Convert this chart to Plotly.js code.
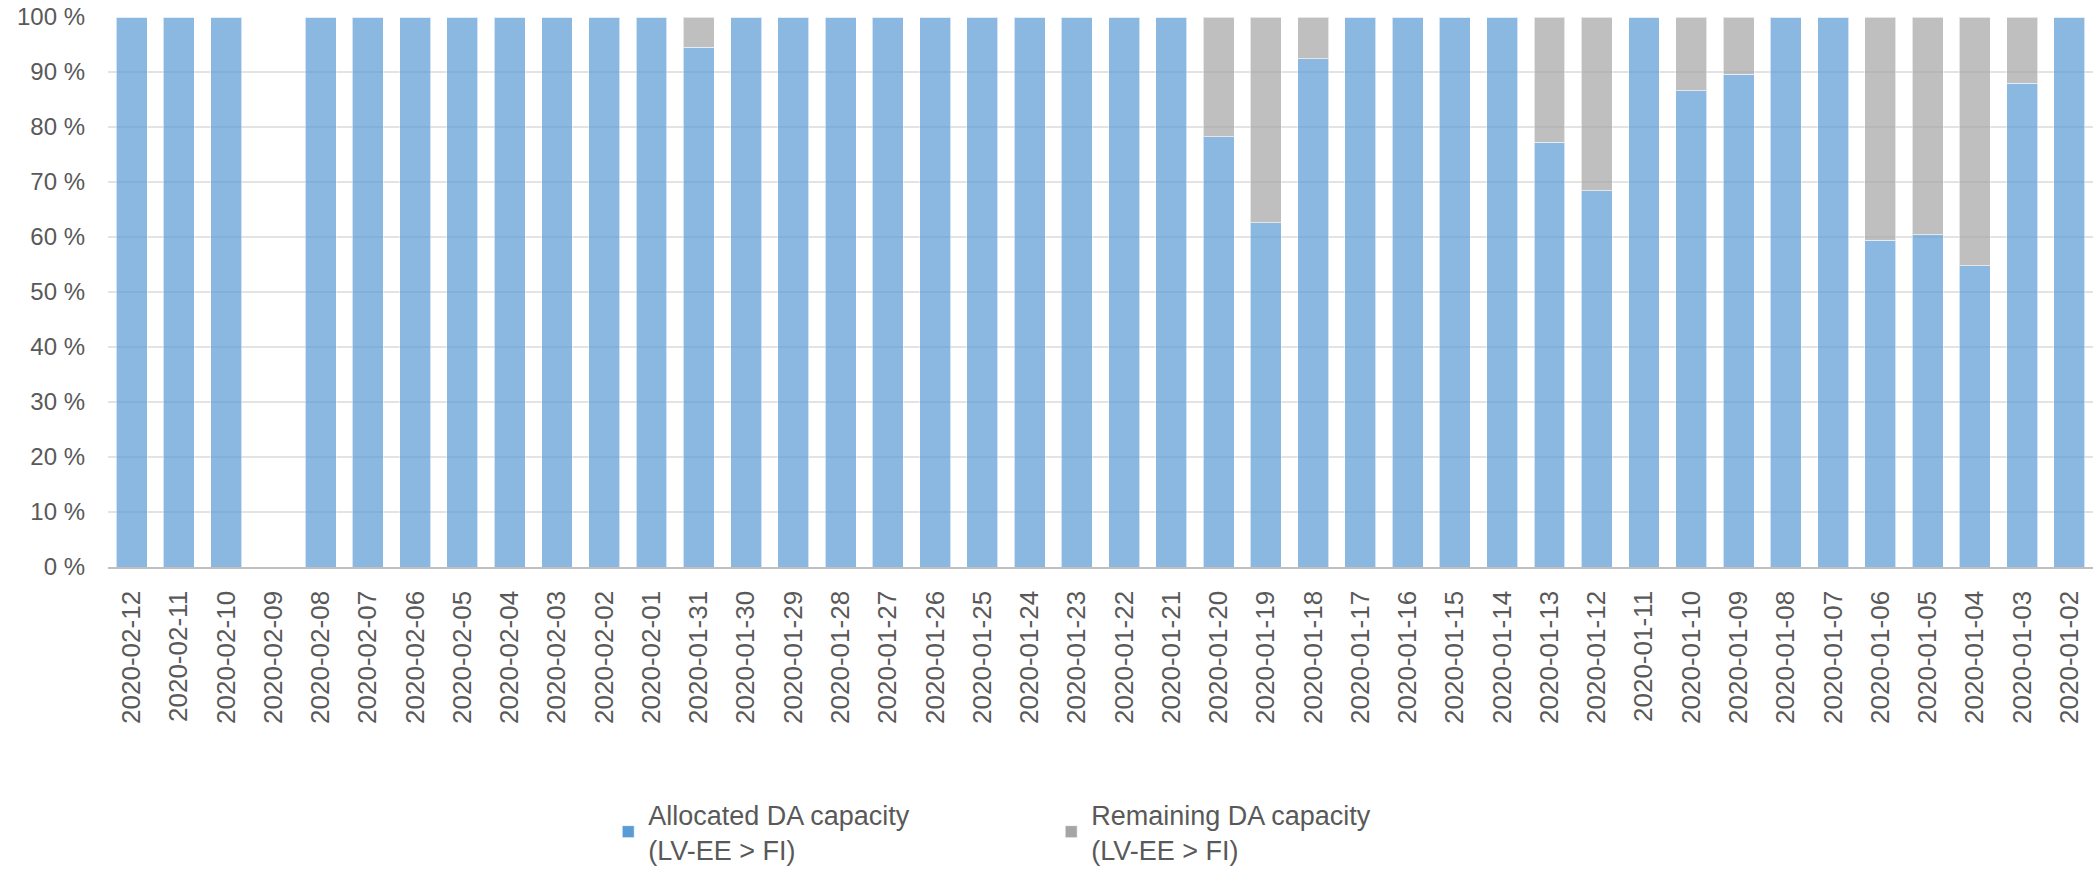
<!DOCTYPE html>
<html>
<head>
<meta charset="utf-8">
<script src="https://cdn.plot.ly/plotly-3.0.1.min.js"></script>
<style>html,body{margin:0;padding:0;background:#fff;}#chart{width:2097px;height:872px;}</style>
</head>
<body>
<div id="chart"></div>
<script>
const dates = ["2020-02-12","2020-02-11","2020-02-10","2020-02-09","2020-02-08","2020-02-07","2020-02-06","2020-02-05","2020-02-04","2020-02-03","2020-02-02","2020-02-01","2020-01-31","2020-01-30","2020-01-29","2020-01-28","2020-01-27","2020-01-26","2020-01-25","2020-01-24","2020-01-23","2020-01-22","2020-01-21","2020-01-20","2020-01-19","2020-01-18","2020-01-17","2020-01-16","2020-01-15","2020-01-14","2020-01-13","2020-01-12","2020-01-11","2020-01-10","2020-01-09","2020-01-08","2020-01-07","2020-01-06","2020-01-05","2020-01-04","2020-01-03","2020-01-02"];
const allocated = [100,100,100,0,100,100,100,100,100,100,100,100,94.5,100,100,100,100,100,100,100,100,100,100,78.2,62.6,92.4,100,100,100,100,77.2,68.4,100,86.6,89.6,100,100,59.4,60.4,54.8,88.0,100];
const remaining = [0,0,0,0,0,0,0,0,0,0,0,0,5.5,0,0,0,0,0,0,0,0,0,0,21.8,37.4,7.6,0,0,0,0,22.8,31.6,0,13.4,10.4,0,0,40.6,39.6,45.2,12.0,0];
const yTicks = [0,10,20,30,40,50,60,70,80,90,100];
const seriesNames = ["Allocated DA capacity<br>(LV-EE > FI)","Remaining DA capacity<br>(LV-EE > FI)"];

const traces = [
  {type:'bar', x:dates, y:allocated, name:seriesNames[0],
   marker:{color:'#5B9BD5', opacity:0.7, line:{color:'rgba(255,255,255,0.6)', width:1}}, hoverinfo:'x+y'},
  {type:'bar', x:dates, y:remaining, name:seriesNames[1],
   marker:{color:'#A5A5A5', opacity:0.7, line:{color:'rgba(255,255,255,0.6)', width:1}}, hoverinfo:'x+y'}
];

const layout = {
  width:2097, height:872,
  margin:{l:108, r:4, t:17, b:305},
  barmode:'stack', bargap:0.345,
  paper_bgcolor:'#ffffff', plot_bgcolor:'#ffffff',
  font:{family:'"Liberation Sans", Arial, sans-serif', color:'#595959'},
  xaxis:{type:'category', tickangle:-90, tickfont:{size:26, color:'#595959'},
         showgrid:false, ticks:'', showline:true, linecolor:'#BFBFBF', linewidth:1.5,
         ticklabelstandoff:12, zeroline:false, automargin:false},
  yaxis:{range:[0,100], tickvals:yTicks, ticktext:yTicks.map(v=>v+' %'),
         tickfont:{size:24, color:'#595959'}, showgrid:true, gridcolor:'#E3E3E3', gridwidth:1.5,
         zeroline:false, showline:false, ticks:'', ticklabelstandoff:22, automargin:false},
  showlegend:true,
  legend:{orientation:'h', x:0.252, xanchor:'left', yref:'container', y:0.094, yanchor:'top',
          font:{family:'"Liberation Sans", Arial, sans-serif', size:27, color:'#595959'},
          entrywidth:398, entrywidthmode:'pixels', traceorder:'normal', itemclick:false}
};

Plotly.newPlot('chart', traces, layout, {displayModeBar:false, staticPlot:true});
</script>
</body>
</html>
